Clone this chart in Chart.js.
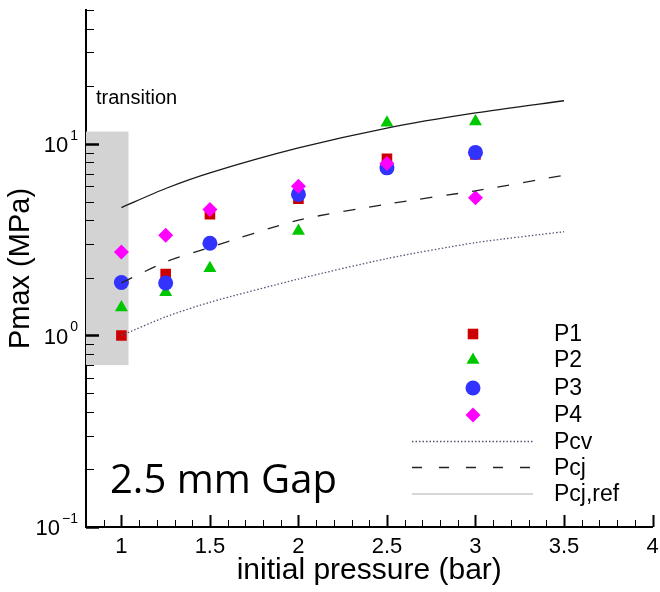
<!DOCTYPE html>
<html>
<head>
<meta charset="utf-8">
<script src="https://cdn.jsdelivr.net/npm/chart.js@4/dist/chart.umd.min.js"></script>
<style>
  html, body { margin: 0; padding: 0; background: #fff; }
  canvas { display: block; }
</style>
</head>
<body>
<canvas id="grafico" width="660" height="592"></canvas>
<script>
// pontos medidos (pressao inicial em bar, Pmax em MPa)
const pressaoPts = [1, 1.25, 1.5, 2, 2.5, 3];
const p1 = [1.0, 2.09, 4.29, 5.17, 8.35, 8.8];
const p2 = [1.40, 1.68, 2.24, 3.51, 12.9, 13.1];
const p3 = [1.89, 1.88, 3.03, 5.45, 7.5, 9.03];
const p4 = [2.73, 3.33, 4.55, 6.01, 7.89, 5.24];

// curvas teoricas
const pressaoCurva = [1, 1.25, 1.5, 2, 2.5, 3, 3.5];
const pcv = [1.0, 1.25, 1.49, 1.97, 2.52, 3.05, 3.48];
const pcj = [1.88, 2.42, 2.88, 4.0, 4.85, 5.69, 6.86];
const pcjRef = [4.65, 5.85, 7.06, 9.52, 12.1, 14.5, 16.8];

const xTicks = [1, 1.5, 2, 2.5, 3, 3.5, 4];
const yDecadas = [0.1, 1, 10];
const transicaoX = [0.8, 1.04];
const transicaoY = [0.7, 11.6];

const fonte = "'Liberation Sans', Arial, sans-serif";
const junta = (xs, ys) => xs.map((x, i) => ({ x: x, y: ys[i] }));

const linha = (label, ys, dash, cor, ordem) => ({
  label: label,
  data: junta(pressaoCurva, ys),
  showLine: true,
  borderColor: cor,
  borderWidth: 1.3,
  borderDash: dash,
  pointRadius: 0,
  tension: 0.25,
  order: ordem
});

const marcador = (label, ys, cor, estilo, ordem) => ({
  label: label,
  data: junta(pressaoPts, ys),
  pointStyle: estilo,
  pointRadius: 7.5,
  pointBackgroundColor: cor,
  pointBorderWidth: 0,
  borderColor: cor,
  order: ordem
});

const legenda = [
  { texto: "P1", cor: "#cc0000", estilo: "rect" },
  { texto: "P2", cor: "#00c800", estilo: "triangle" },
  { texto: "P3", cor: "#3333ff", estilo: "circle" },
  { texto: "P4", cor: "#ff00ff", estilo: "rectRot" },
  { texto: "Pcv", cor: "#555577", dash: [1.5, 2] },
  { texto: "Pcj", cor: "#222222", dash: [10, 17] },
  { texto: "Pcj,ref", cor: "#c8c8c8", dash: [] }
];

function desenhaMarcador(ctx, estilo, r, x, y) {
  ctx.beginPath();
  if (estilo === "rect") {
    const s = Math.SQRT1_2 * r;
    ctx.rect(x - s, y - s, 2 * s, 2 * s);
  } else if (estilo === "rectRot") {
    ctx.moveTo(x, y - r); ctx.lineTo(x + r, y); ctx.lineTo(x, y + r); ctx.lineTo(x - r, y);
    ctx.closePath();
  } else if (estilo === "triangle") {
    let a = 0;
    ctx.moveTo(x + Math.sin(a) * r, y - Math.cos(a) * r);
    a += 2 * Math.PI / 3;
    ctx.lineTo(x + Math.sin(a) * r, y - Math.cos(a) * r);
    a += 2 * Math.PI / 3;
    ctx.lineTo(x + Math.sin(a) * r, y - Math.cos(a) * r);
    ctx.closePath();
  } else {
    ctx.arc(x, y, r, 0, Math.PI * 2);
  }
  ctx.fill();
}

const decoracao = {
  id: "decoracao",
  beforeDatasetsDraw(chart) {
    const { ctx, scales: { x, y } } = chart;
    ctx.save();
    ctx.fillStyle = "#d3d3d3";
    const x0 = x.getPixelForValue(transicaoX[0]), x1 = x.getPixelForValue(transicaoX[1]);
    const y0 = y.getPixelForValue(transicaoY[1]), y1 = y.getPixelForValue(transicaoY[0]);
    ctx.fillRect(x0, y0, x1 - x0, y1 - y0);
    ctx.restore();
  },
  afterDatasetsDraw(chart) {
    const { ctx, chartArea: area, scales: { x, y } } = chart;
    ctx.save();
    ctx.strokeStyle = "#000";

    // marcas do eixo x, para dentro
    for (let k = 8; k <= 40; k++) {
      const v = k / 10;
      const px = Math.round(x.getPixelForValue(v)) + 0.5;
      const major = k % 5 === 0;
      ctx.lineWidth = major ? 2 : 1;
      ctx.beginPath();
      ctx.moveTo(px, area.bottom);
      ctx.lineTo(px, area.bottom - (major ? 12 : 7));
      ctx.stroke();
    }
    // marcas do eixo y (log)
    for (let e = -1; e <= 1; e++) {
      for (let m = 1; m <= 9; m++) {
        const v = m * Math.pow(10, e);
        if (v > y.max) break;
        const py = Math.round(y.getPixelForValue(v)) + 0.5;
        ctx.lineWidth = m === 1 ? 2.5 : 1;
        ctx.beginPath();
        ctx.moveTo(area.left, py);
        ctx.lineTo(area.left + (m === 1 ? 13 : 8), py);
        ctx.stroke();
      }
    }

    // rotulos 10^n
    ctx.fillStyle = "#000";
    ctx.textBaseline = "middle";
    yDecadas.forEach(v => {
      const py = y.getPixelForValue(v);
      const exp = String(Math.round(Math.log10(v))).replace("-", "\u2212");
      ctx.font = "14px " + fonte;
      ctx.textAlign = "right";
      const wExp = ctx.measureText(exp).width;
      ctx.fillText(exp, 78, py - 8);
      ctx.font = "22px " + fonte;
      ctx.fillText("10", 78 - wExp - 2, py + 2);
    });

    // textos
    ctx.textAlign = "left";
    ctx.font = "20px " + fonte;
    ctx.fillText("transition", 96, 98);
    ctx.font = "40px 'Open Sans', sans-serif";
    ctx.textBaseline = "alphabetic";
    ctx.fillText("2.5 mm Gap", 110, 493);

    // legenda
    const linhasY = [334, 360, 388, 415, 441.5, 467.5, 494];
    ctx.font = "23px " + fonte;
    ctx.textBaseline = "middle";
    legenda.forEach((item, i) => {
      const ly = linhasY[i];
      if (item.estilo) {
        ctx.fillStyle = item.cor;
        desenhaMarcador(ctx, item.estilo, 7.5, 473, ly);
      } else {
        ctx.strokeStyle = item.cor;
        ctx.lineWidth = item.dash.length ? 1.3 : 1.5;
        ctx.setLineDash(item.dash);
        ctx.beginPath();
        ctx.moveTo(412, ly);
        ctx.lineTo(533, ly);
        ctx.stroke();
        ctx.setLineDash([]);
      }
      ctx.fillStyle = "#000";
      ctx.fillText(item.texto, 554, ly + 1);
    });
    ctx.restore();
  }
};

new Chart(document.getElementById("grafico").getContext("2d"), {
  type: "scatter",
  data: {
    datasets: [
      linha("Pcj,ref", pcjRef, [], "#1a1a1a", 0),
      linha("Pcj", pcj, [12, 14], "#222222", 0),
      linha("Pcv", pcv, [1.5, 2], "#555577", 0),
      marcador("P4", p4, "#ff00ff", "rectRot", 1),
      marcador("P3", p3, "#3333ff", "circle", 2),
      marcador("P2", p2, "#00c800", "triangle", 3),
      marcador("P1", p1, "#cc0000", "rect", 4)
    ]
  },
  options: {
    responsive: false,
    animation: false,
    devicePixelRatio: 1,
    layout: { padding: { top: 10, right: 6, left: 0, bottom: 0 } },
    plugins: {
      legend: { display: false },
      tooltip: { enabled: false }
    },
    scales: {
      x: {
        type: "linear",
        min: 0.8,
        max: 4,
        afterBuildTicks: s => { s.ticks = xTicks.map(v => ({ value: v })); },
        afterFit: s => { s.height = 65; s.paddingLeft = 0; s.paddingRight = 0; },
        grid: { display: false, drawTicks: false },
        border: { display: true, color: "#000", width: 2 },
        ticks: {
          color: "#000",
          padding: 7,
          maxRotation: 0,
          autoSkip: false,
          font: { family: fonte, size: 22 },
          callback: v => String(v)
        },
        title: {
          display: true,
          text: "initial pressure (bar)",
          color: "#000",
          font: { family: fonte, size: 30 },
          padding: { top: 0, bottom: 3 }
        }
      },
      y: {
        type: "logarithmic",
        min: 0.1,
        max: 50,
        afterFit: s => { s.width = 86; s.paddingTop = 0; s.paddingBottom = 0; },
        grid: { display: false, drawTicks: false },
        border: { display: true, color: "#000", width: 2 },
        ticks: { display: false },
        title: {
          display: true,
          text: "Pmax (MPa)",
          color: "#000",
          font: { family: fonte, size: 29 },
          padding: { top: 4, bottom: 0 }
        }
      }
    }
  },
  plugins: [decoracao]
});
</script>
</body>
</html>
